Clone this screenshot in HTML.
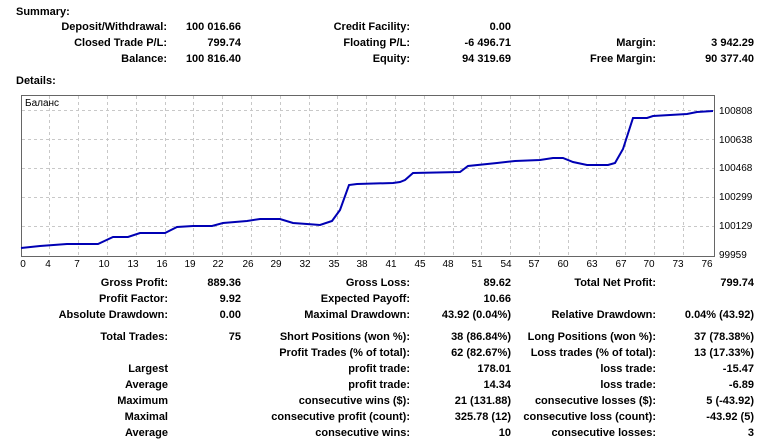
<!DOCTYPE html>
<html><head><meta charset="utf-8"><style>
body{margin:0;width:784px;height:443px;background:#fff;font-family:"Liberation Sans","DejaVu Sans",sans-serif;font-size:11px;font-weight:bold;color:#000;position:relative;overflow:hidden}
.t{position:absolute;white-space:nowrap;line-height:13px}
.r{transform:translateX(-100%)}
.c{transform:translateX(-50%)}
svg{position:absolute;left:0;top:0}
</style></head><body>
<div class="t" style="left:16px;top:6px">Summary:</div>
<div class="t r" style="left:167px;top:21px">Deposit/Withdrawal:</div><div class="t r" style="left:241px;top:21px">100 016.66</div>
<div class="t r" style="left:410px;top:21px">Credit Facility:</div><div class="t r" style="left:511px;top:21px">0.00</div>
<div class="t r" style="left:167px;top:37px">Closed Trade P/L:</div><div class="t r" style="left:241px;top:37px">799.74</div>
<div class="t r" style="left:410px;top:37px">Floating P/L:</div><div class="t r" style="left:511px;top:37px">-6 496.71</div>
<div class="t r" style="left:656px;top:37px">Margin:</div><div class="t r" style="left:754px;top:37px">3 942.29</div>
<div class="t r" style="left:167px;top:53px">Balance:</div><div class="t r" style="left:241px;top:53px">100 816.40</div>
<div class="t r" style="left:410px;top:53px">Equity:</div><div class="t r" style="left:511px;top:53px">94 319.69</div>
<div class="t r" style="left:656px;top:53px">Free Margin:</div><div class="t r" style="left:754px;top:53px">90 377.40</div>
<div class="t" style="left:16px;top:75px">Details:</div>

<svg width="784" height="443">
<rect x="21.5" y="95.5" width="693" height="161" fill="#fff" stroke="#666"/>
<g stroke="#c8c8c8" stroke-dasharray="3,3" stroke-width="1">
<line x1="22" x2="714" y1="110.5" y2="110.5"/><line x1="22" x2="714" y1="139.5" y2="139.5"/><line x1="22" x2="714" y1="168.5" y2="168.5"/><line x1="22" x2="714" y1="197.5" y2="197.5"/><line x1="22" x2="714" y1="226.5" y2="226.5"/>
<line y1="96" y2="256" x1="49.5" x2="49.5"/><line y1="96" y2="256" x1="78.5" x2="78.5"/><line y1="96" y2="256" x1="107.5" x2="107.5"/><line y1="96" y2="256" x1="136.5" x2="136.5"/><line y1="96" y2="256" x1="165.5" x2="165.5"/><line y1="96" y2="256" x1="193.5" x2="193.5"/><line y1="96" y2="256" x1="222.5" x2="222.5"/><line y1="96" y2="256" x1="251.5" x2="251.5"/><line y1="96" y2="256" x1="280.5" x2="280.5"/><line y1="96" y2="256" x1="309.5" x2="309.5"/><line y1="96" y2="256" x1="337.5" x2="337.5"/><line y1="96" y2="256" x1="366.5" x2="366.5"/><line y1="96" y2="256" x1="395.5" x2="395.5"/><line y1="96" y2="256" x1="424.5" x2="424.5"/><line y1="96" y2="256" x1="453.5" x2="453.5"/><line y1="96" y2="256" x1="481.5" x2="481.5"/><line y1="96" y2="256" x1="510.5" x2="510.5"/><line y1="96" y2="256" x1="539.5" x2="539.5"/><line y1="96" y2="256" x1="568.5" x2="568.5"/><line y1="96" y2="256" x1="596.5" x2="596.5"/><line y1="96" y2="256" x1="625.5" x2="625.5"/><line y1="96" y2="256" x1="654.5" x2="654.5"/><line y1="96" y2="256" x1="683.5" x2="683.5"/>
</g>
<polyline fill="none" stroke="#0000b4" stroke-width="2" points="21,248 40,246 67,244 98,244 113,237 128,237 140,233 165,233 177,227 193,226 212,226 223,223 247,221 260,219 280,219 293,223 307,224 320,225 332,221 340,210 349,185 357,184 393,183 400,182 405,180 413,173 460,172 468,166 497,163 515,161 540,160 553,158 563,158 573,162 587,165 608,165 615,163 623,149 633,118 647,118 653,116 687,114 697,112 713,111"/>
<g font-family="Liberation Sans,sans-serif" font-size="10" font-weight="normal" fill="#000">
<text x="25" y="106">Баланс</text>
<g text-anchor="start"><text x="719" y="114">100808</text><text x="719" y="143">100638</text><text x="719" y="171">100468</text><text x="719" y="200">100299</text><text x="719" y="229">100129</text><text x="719" y="258">99959</text></g>
<g text-anchor="middle"><text x="23" y="267">0</text><text x="48" y="267">4</text><text x="77" y="267">7</text><text x="104" y="267">10</text><text x="133" y="267">13</text><text x="162" y="267">16</text><text x="190" y="267">19</text><text x="218" y="267">22</text><text x="248" y="267">26</text><text x="276" y="267">29</text><text x="305" y="267">32</text><text x="334" y="267">35</text><text x="362" y="267">38</text><text x="391" y="267">41</text><text x="420" y="267">45</text><text x="448" y="267">48</text><text x="477" y="267">51</text><text x="506" y="267">54</text><text x="534" y="267">57</text><text x="563" y="267">60</text><text x="592" y="267">63</text><text x="621" y="267">67</text><text x="649" y="267">70</text><text x="678" y="267">73</text><text x="707" y="267">76</text></g>
</g>
</svg>

<div class="t r" style="left:168px;top:277px">Gross Profit:</div><div class="t r" style="left:241px;top:277px">889.36</div>
<div class="t r" style="left:410px;top:277px">Gross Loss:</div><div class="t r" style="left:511px;top:277px">89.62</div>
<div class="t r" style="left:656px;top:277px">Total Net Profit:</div><div class="t r" style="left:754px;top:277px">799.74</div>
<div class="t r" style="left:168px;top:293px">Profit Factor:</div><div class="t r" style="left:241px;top:293px">9.92</div>
<div class="t r" style="left:410px;top:293px">Expected Payoff:</div><div class="t r" style="left:511px;top:293px">10.66</div>
<div class="t r" style="left:168px;top:309px">Absolute Drawdown:</div><div class="t r" style="left:241px;top:309px">0.00</div>
<div class="t r" style="left:410px;top:309px">Maximal Drawdown:</div><div class="t r" style="left:511px;top:309px">43.92 (0.04%)</div>
<div class="t r" style="left:656px;top:309px">Relative Drawdown:</div><div class="t r" style="left:754px;top:309px">0.04% (43.92)</div>
<div class="t r" style="left:168px;top:331px">Total Trades:</div><div class="t r" style="left:241px;top:331px">75</div>
<div class="t r" style="left:410px;top:331px">Short Positions (won %):</div><div class="t r" style="left:511px;top:331px">38 (86.84%)</div>
<div class="t r" style="left:656px;top:331px">Long Positions (won %):</div><div class="t r" style="left:754px;top:331px">37 (78.38%)</div>
<div class="t r" style="left:410px;top:347px">Profit Trades (% of total):</div><div class="t r" style="left:511px;top:347px">62 (82.67%)</div>
<div class="t r" style="left:656px;top:347px">Loss trades (% of total):</div><div class="t r" style="left:754px;top:347px">13 (17.33%)</div>
<div class="t r" style="left:168px;top:363px">Largest</div><div class="t r" style="left:410px;top:363px">profit trade:</div><div class="t r" style="left:511px;top:363px">178.01</div><div class="t r" style="left:656px;top:363px">loss trade:</div><div class="t r" style="left:754px;top:363px">-15.47</div>
<div class="t r" style="left:168px;top:379px">Average</div><div class="t r" style="left:410px;top:379px">profit trade:</div><div class="t r" style="left:511px;top:379px">14.34</div><div class="t r" style="left:656px;top:379px">loss trade:</div><div class="t r" style="left:754px;top:379px">-6.89</div>
<div class="t r" style="left:168px;top:395px">Maximum</div><div class="t r" style="left:410px;top:395px">consecutive wins ($):</div><div class="t r" style="left:511px;top:395px">21 (131.88)</div><div class="t r" style="left:656px;top:395px">consecutive losses ($):</div><div class="t r" style="left:754px;top:395px">5 (-43.92)</div>
<div class="t r" style="left:168px;top:411px">Maximal</div><div class="t r" style="left:410px;top:411px">consecutive profit (count):</div><div class="t r" style="left:511px;top:411px">325.78 (12)</div><div class="t r" style="left:656px;top:411px">consecutive loss (count):</div><div class="t r" style="left:754px;top:411px">-43.92 (5)</div>
<div class="t r" style="left:168px;top:427px">Average</div><div class="t r" style="left:410px;top:427px">consecutive wins:</div><div class="t r" style="left:511px;top:427px">10</div><div class="t r" style="left:656px;top:427px">consecutive losses:</div><div class="t r" style="left:754px;top:427px">3</div>
</body></html>
